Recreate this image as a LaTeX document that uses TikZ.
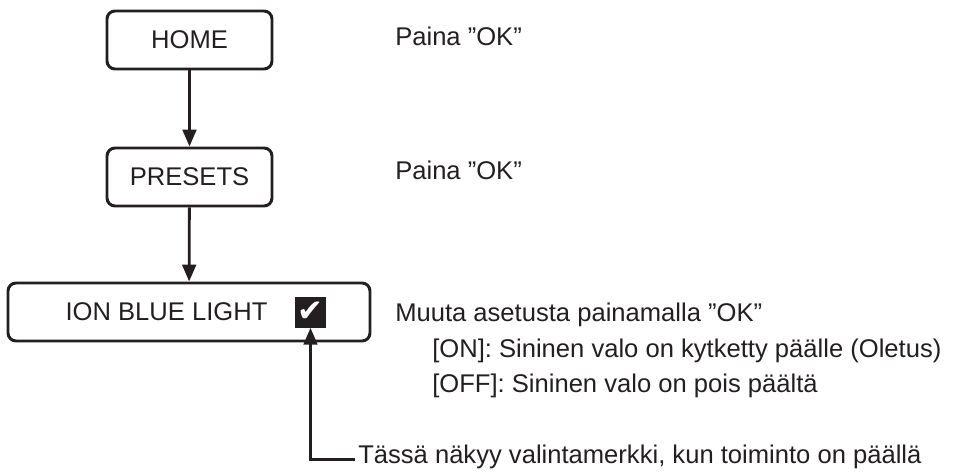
\documentclass[tikz,border=0pt]{standalone}
\usepackage{fontspec}
\setmainfont{Liberation Sans}
\newfontfamily\checkfont{DejaVu Sans}
\usetikzlibrary{arrows.meta}
\definecolor{ink}{RGB}{35,31,32}

\begin{document}
\begin{tikzpicture}[>={Triangle[length=0.42cm, width=0.34cm]},
    menubox/.style={draw=ink, line width=2.1pt, rounded corners=0.2cm, minimum width=4.125cm, minimum height=1.45cm, text=ink, font=\fontsize{18.2}{21}\selectfont},
    hint/.style={anchor=base west, inner sep=0pt, text=ink, font=\fontsize{18.2}{21}\selectfont},
    link/.style={->, draw=ink, line width=2pt}]
    \useasboundingbox (0,0) rectangle (24.1,11.8);

    % menu steps
    \node[menubox] (home) at (4.7375, 10.8) {HOME};
    \node[menubox] (presets) at (4.7375, 7.375) {PRESETS};
    \node[menubox, minimum width=9.05cm] (ion) at (4.725, 4.0) {};
    \node[text=ink, font=\fontsize{18.2}{21}\selectfont] (iontext) at (4.1625, 4.0) {ION BLUE LIGHT};
    \node[fill=ink, text=white, minimum size=0.775cm, inner sep=0pt, font=\checkfont\fontsize{22}{22}\selectfont] (check) at (7.7625, 4.0) {✔};

    \draw[link] (home) -- (presets);
    \draw[link] (presets) -- (ion);

    % explanations
    \node[hint] (okone) at (9.875, 10.65) {Paina ”OK”};
    \node[hint] (oktwo) at (9.875, 7.3) {Paina ”OK”};
    \node[hint] (change) at (9.875, 3.75) {Muuta asetusta painamalla ”OK”};
    \node[hint] (onopt) at (10.8, 2.875) {[ON]: Sininen valo on kytketty päälle (Oletus)};
    \node[hint] (offopt) at (10.8, 2.0) {[OFF]: Sininen valo on pois päältä};
    \node[hint, inner xsep=0.075cm] (note) at (8.875, 0.225) {Tässä näkyy valintamerkki, kun toiminto on päällä};

    \draw[link] (note.mid west) -| (check.south);
\end{tikzpicture}
\end{document}
